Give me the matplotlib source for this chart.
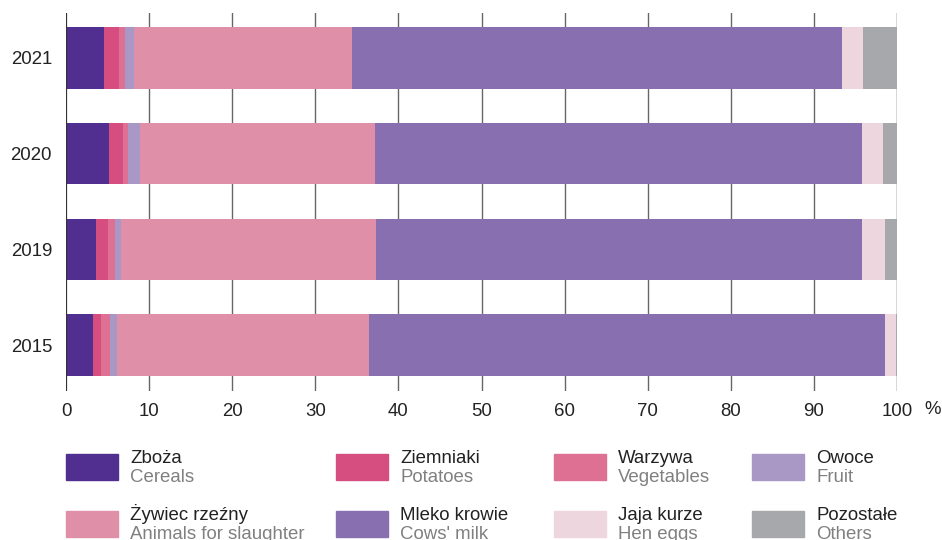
import matplotlib
matplotlib.use("Agg")
import matplotlib.pyplot as plt
from matplotlib.patches import Rectangle

years = ["2021", "2020", "2019", "2015"]
cereals = [4.6, 5.2, 3.6, 3.3]
potatoes = [1.8, 1.6, 1.4, 0.9]
vegetables = [0.7, 0.7, 0.9, 1.1]
fruit = [1.1, 1.4, 0.7, 0.8]
slaughter = [26.2, 28.3, 30.7, 30.4]
milk = [59.0, 58.6, 58.5, 62.1]
eggs = [2.5, 2.5, 2.8, 1.3]
others = [4.1, 1.7, 1.4, 0.1]

series = [cereals, potatoes, vegetables, fruit, slaughter, milk, eggs, others]
labels_pl = ["Zboża", "Ziemniaki", "Warzywa", "Owoce",
             "Żywiec rzeźny", "Mleko krowie", "Jaja kurze", "Pozostałe"]
labels_en = ["Cereals", "Potatoes", "Vegetables", "Fruit",
             "Animals for slaughter", "Cows' milk", "Hen eggs", "Others"]
colors = ["#512F91", "#D64E80", "#DE7093", "#A997C6",
          "#DF90A8", "#8870B0", "#EED6DF", "#A7A8AB"]
xticks = list(range(0, 101, 10))

plt.rcParams['font.family'] = ['Liberation Sans', 'DejaVu Sans']
FS = 13.4

fig = plt.figure(figsize=(9.42, 5.40), dpi=100)
ax = fig.add_axes([66/942, 1-391/540, 831/942, 378/540])

ypos = [3, 2, 1, 0]
left = [0.0]*len(years)
for vals, c in zip(series, colors):
    ax.barh(ypos, vals, left=left, height=0.64, color=c, zorder=2, linewidth=0)
    left = [l + v for l, v in zip(left, vals)]

ax.set_xlim(0, 100)
ax.set_ylim(-0.48, 3.47)
ax.set_xticks(xticks)
ax.set_xticklabels([str(t) for t in xticks], fontsize=FS, color="#222")
ax.set_yticks(ypos)
ax.set_yticklabels(years, fontsize=FS, color="#222")
ax.tick_params(axis='x', length=0, pad=9)
ax.tick_params(axis='y', length=0, pad=10)
for s in ax.spines.values():
    s.set_visible(False)
for t in xticks:
    lw = 1.6 if t == 0 else 1.0
    col = "#333333" if t in (0, 100) else "#666666"
    ax.axvline(t, color=col, lw=lw, zorder=3 if t == 0 else 1)
fig.text(924/942, 1-410/540, "%", fontsize=FS, color="#222", ha='left', va='center')

# legend
cols_x = [66, 336, 554, 752]
rows_y = [454, 511]
for i in range(8):
    r, cidx = divmod(i, 4)
    x0 = cols_x[cidx]
    y0 = rows_y[r]
    fig.patches.append(Rectangle((x0/942, 1-(y0+26)/540), 52/942, 26/540,
                                 transform=fig.transFigure, color=colors[i]))
    fig.text((x0+64)/942, 1-(y0+9)/540, labels_pl[i], fontsize=FS,
             color="#222", ha='left', va='baseline')
    fig.text((x0+64)/942, 1-(y0+28)/540, labels_en[i], fontsize=FS,
             color="#808080", ha='left', va='baseline')

fig.savefig("out.png", dpi=100)
